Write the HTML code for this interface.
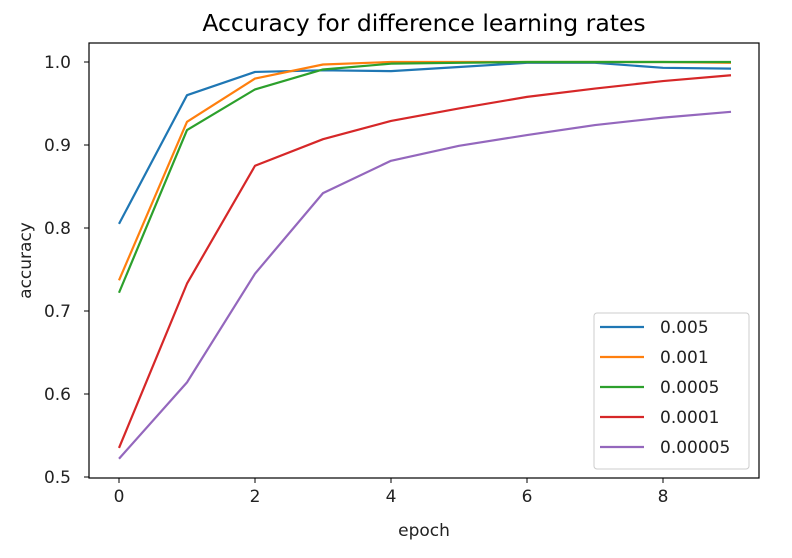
<!DOCTYPE html>
<html><head><meta charset="utf-8"><style>
body{margin:0;background:#fff;}
svg{display:block;font-family:"DejaVu Sans","Liberation Sans",sans-serif;}
</style></head><body>
<svg id="chart" width="792" height="558"></svg>
<script>
const epochs=[0,1,2,3,4,5,6,7,8,9];
const seriesNames=["0.005","0.001","0.0005","0.0001","0.00005"];
const s005=[0.805,0.960,0.988,0.990,0.989,0.994,0.999,0.999,0.993,0.992];
const s001=[0.737,0.928,0.980,0.997,1.000,1.000,1.000,1.000,1.000,0.999];
const s0005=[0.722,0.918,0.967,0.991,0.998,0.999,1.000,1.000,1.000,1.000];
const s0001=[0.535,0.733,0.875,0.907,0.929,0.944,0.958,0.968,0.977,0.984];
const s00005=[0.522,0.614,0.745,0.842,0.881,0.899,0.912,0.924,0.933,0.940];
const xTicks=[0,2,4,6,8];
const yTicks=[0.5,0.6,0.7,0.8,0.9,1.0];
const colors=["#1f77b4","#ff7f0e","#2ca02c","#d62728","#9467bd"];
const allSeries=[s005,s001,s0005,s0001,s00005];
const NS="http://www.w3.org/2000/svg";
const svg=document.getElementById('chart');
const L=89,R=759,T=43,B=478;
function xs(v){return 119+v*68;}
function ys(v){return 477-(v-0.5)*830;}
function mk(t,a,p){const e=document.createElementNS(NS,t);for(const k in a)e.setAttribute(k,a[k]);(p||svg).appendChild(e);return e;}
let t=mk('text',{x:(L+R)/2,y:31,'text-anchor':'middle','font-size':'23.5',fill:'#000'});t.textContent="Accuracy for difference learning rates";


xTicks.forEach(v=>{const x=xs(v);
 const l=mk('line',{x1:x,x2:x,y1:B,y2:B+5,stroke:'#000','stroke-width':1});
 
 
 const tx=mk('text',{x:x,y:B+24,'text-anchor':'middle','font-size':'17',fill:'#222'});tx.textContent=v;
 
 });
yTicks.forEach(v=>{const y=ys(v);
 const l=mk('line',{x1:L-5,x2:L,y1:y,y2:y,stroke:'#000','stroke-width':1});
 
 
 const tx=mk('text',{x:L-18,y:y+6,'text-anchor':'end','font-size':'17',fill:'#222'});tx.textContent=v.toFixed(1);
 
 });
let xl=mk('text',{x:(L+R)/2,y:536,'text-anchor':'middle','font-size':'17',fill:'#222'});xl.textContent="epoch";


let yl=mk('text',{x:0,y:0,'text-anchor':'middle','font-size':'17',fill:'#222',transform:'translate(31,'+((T+B)/2)+') rotate(-90)'});yl.textContent="accuracy";


allSeries.forEach((s,i)=>{
 const p=mk('polyline',{points:s.map((v,j)=>xs(epochs[j])+','+ys(v)).join(' '),fill:'none',stroke:colors[i],'stroke-width':2.2,'stroke-linejoin':'round'});
 
 
});
const frame=mk('rect',{x:L,y:T,width:R-L,height:B-T,fill:'none',stroke:'#000','stroke-width':1.2});


const lg=mk('g',{});


mk('rect',{x:594,y:313,width:155,height:156,rx:3,fill:'#fff','fill-opacity':0.85,stroke:'#ccc'},lg);
seriesNames.forEach((n,i)=>{const y=327+i*30;
 const e=mk('g',{},lg);
 
 
 mk('line',{x1:600,x2:644,y1:y,y2:y,stroke:colors[i],'stroke-width':2.2},e);
 const tx=mk('text',{x:660,y:y+6,'font-size':'17',fill:'#222'},e);tx.textContent=n;});
</script>
</body></html>
